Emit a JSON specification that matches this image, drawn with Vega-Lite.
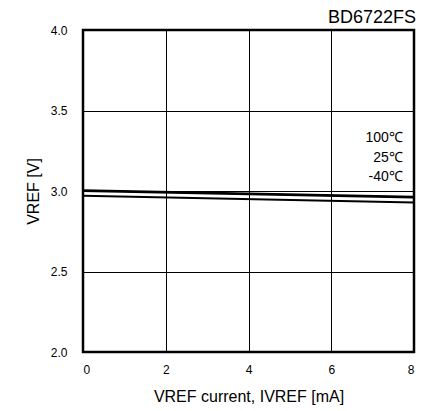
{
  "$schema": "https://vega.github.io/schema/vega-lite/v6.json",
  "width": 331,
  "height": 322,
  "autosize": {"type": "none"},
  "padding": {"left": 83, "top": 30, "right": 16, "bottom": 59},
  "background": "white",
  "title": {"text": "BD6722FS", "anchor": "end", "fontSize": 18, "font": "Liberation Sans", "fontWeight": "normal", "color": "black", "offset": -3, "dx": -2},
  "config": {
    "view": {"stroke": "black", "strokeWidth": 2.5},
    "axis": {"labelFont": "Liberation Sans", "titleFont": "Liberation Sans", "labelColor": "black", "titleColor": "black", "labelFontSize": 12, "titleFontSize": 16, "titleFontWeight": "normal", "gridColor": "black", "gridOpacity": 1, "gridWidth": 1, "domain": false, "ticks": false}
  },
  "datasets": {
    "curves": [
      {"i": 0, "v": 3.005, "t": "100℃"},
      {"i": 8, "v": 2.965, "t": "100℃"},
      {"i": 0, "v": 3.0, "t": "25℃"},
      {"i": 8, "v": 2.96, "t": "25℃"},
      {"i": 0, "v": 2.97, "t": "-40℃"},
      {"i": 8, "v": 2.928, "t": "-40℃"}
    ],
    "labels": [
      {"i": 7.73, "v": 3.33, "t": "100℃"},
      {"i": 7.73, "v": 3.205, "t": "25℃"},
      {"i": 7.73, "v": 3.085, "t": "-40℃"}
    ]
  },
  "layer": [
    {
      "data": {"name": "curves"},
      "mark": {"type": "line", "color": "black", "strokeWidth": 2},
      "encoding": {
        "x": {"field": "i", "type": "quantitative", "scale": {"domain": [0, 8], "nice": false}, "axis": {"values": [0, 2, 4, 6, 8], "title": "VREF current, IVREF [mA]", "labelPadding": 12, "titlePadding": 13}},
        "y": {"field": "v", "type": "quantitative", "scale": {"domain": [2, 4], "nice": false, "zero": false}, "axis": {"values": [2, 2.5, 3, 3.5, 4], "format": ".1f", "title": "VREF [V]", "labelPadding": 16, "titlePadding": 9}},
        "detail": {"field": "t"}
      }
    },
    {
      "data": {"name": "labels"},
      "mark": {"type": "text", "align": "right", "baseline": "middle", "fontSize": 14, "font": "Liberation Sans", "color": "black"},
      "encoding": {
        "x": {"field": "i", "type": "quantitative"},
        "y": {"field": "v", "type": "quantitative"},
        "text": {"field": "t"}
      }
    }
  ]
}
